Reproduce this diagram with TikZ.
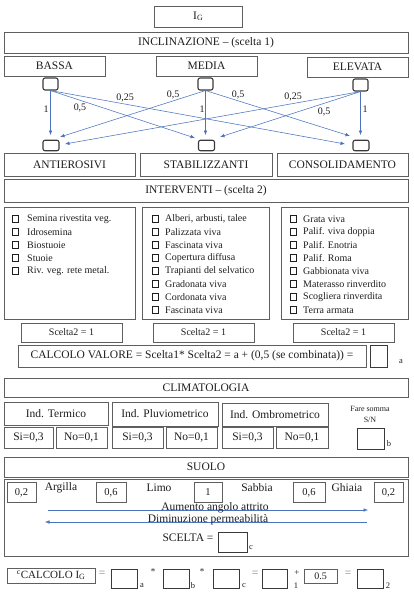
\documentclass[tikz,border=0pt]{standalone}
\usepackage{fontspec}
\setmainfont{Liberation Serif}
\usetikzlibrary{arrows.meta}
\definecolor{bordergray}{HTML}{5F5F5F}
\definecolor{sqgray}{HTML}{3A3A3A}
\definecolor{arrowblue}{HTML}{4A74C0}
\definecolor{txt}{HTML}{1E1E1E}
\newcommand\fs[1]{\fontsize{#1}{#1}\selectfont}
\begin{document}
\begin{tikzpicture}[x=1pt,y=-1pt,
 every node/.style={text=txt},
 bx/.style={draw=bordergray, line width=0.8pt, inner sep=0pt, font=\fs{11.5}},
 ans/.style={draw=sqgray, line width=0.9pt, inner sep=0pt},
 wh/.style 2 args={minimum width=#1pt, minimum height=#2pt},
 sq/.style={draw=sqgray, line width=1.1pt, rounded corners=2pt, inner sep=0pt},
 lbl/.style={inner sep=0pt, font=\fs{10}},
 arr/.style={draw=arrowblue, line width=0.55pt, -{Latex[length=4.5pt,width=3.6pt]}},
 item/.style={anchor=west, inner sep=0pt, font=\fs{10}},
 cb/.style={draw=txt, line width=0.8pt},
 sub/.style={inner sep=0pt, font=\fs{8.5}},
 plain/.style={inner sep=0pt, font=\fs{11.5}},
]
\useasboundingbox[fill=white] (0,0) rectangle (413,598);

% top
\node[bx, wh={88}{21}] (ig) at (198,16.5) {I\raisebox{-1pt}{\fs{8}G}};
\node[bx, wh={404}{21}] (incl) at (206,42.5) {INCLINAZIONE – (scelta 1)};
\node[bx, wh={101}{20}] (bassa) at (54.5,66) {BASSA};
\node[bx, wh={101}{20}] (media) at (206.5,66) {MEDIA};
\node[bx, wh={101}{20}] (elev) at (357.5,67) {ELEVATA};
\node[sq, wh={15}{12}] (s1) at (50.5,84) {};
\node[sq, wh={15}{12}] (s2) at (205.5,84) {};
\node[sq, wh={15}{12}] (s3) at (360.5,85) {};
\node[sq, wh={16}{10.5}] (t1) at (51,145.5) {};
\node[sq, wh={16}{10.5}] (t2) at (206.5,145.5) {};
\node[sq, wh={16}{10.5}] (t3) at (361,145.5) {};

\coordinate (e11) at (50.5,135);
\coordinate (e12) at (195,138);
\coordinate (e13) at (345,144);
\coordinate (e21) at (60,137);
\coordinate (e22) at (205.5,135);
\coordinate (e23) at (350,136);
\coordinate (e31) at (65,144);
\coordinate (e32) at (220,137);
\coordinate (e33) at (360.5,135);
\foreach \s in {1,2,3}{\foreach \e in {1,2,3}{\draw[arr] (s\s.south) -- (e\s\e);}}

\node[lbl] (w11) at (46,109) {1};
\node[lbl] (w12) at (80,108) {0,5};
\node[lbl] (w13) at (125,98) {0,25};
\node[lbl] (w21) at (173,95) {0,5};
\node[lbl] (w22) at (202,109) {1};
\node[lbl] (w23) at (238,95) {0,5};
\node[lbl] (w31) at (293,97) {0,25};
\node[lbl] (w32) at (324,112) {0,5};
\node[lbl] (w33) at (365,109) {1};

% interventi
\node[bx, wh={131}{23}] (anti) at (69.5,164.5) {ANTIEROSIVI};
\node[bx, wh={132}{23}] (stab) at (206,164.5) {STABILIZZANTI};
\node[bx, wh={131}{23}] (cons) at (342.5,164.5) {CONSOLIDAMENTO};
\node[bx, wh={404}{23}] (interv) at (206,190.5) {INTERVENTI – (scelta 2)};

\node[bx, wh={131}{112}] (lb1) at (69.5,263) {};
\node[bx, wh={127}{112}] (lb2) at (205.5,263) {};
\node[bx, wh={127}{112}] (lb3) at (344.5,263) {};

\foreach \t [count=\i] in {Semina rivestita veg., Idrosemina, Biostuoie, Stuoie, Riv. veg. rete metal.}{
  \pgfmathsetmacro\yy{219+13*(\i-1)}
  \draw[cb] (12,\yy-3.3) rectangle (18.6,\yy+3.3);
  \node[item] (la\i) at (27,\yy) {\t};
}
\foreach \t [count=\i] in {{Alberi, arbusti, talee}, Palizzata viva, Fascinata viva, Copertura diffusa, Trapianti del selvatico, Gradonata viva, Cordonata viva, Fascinata viva}{
  \pgfmathsetmacro\yy{219+13*(\i-1)}
  \draw[cb] (152,\yy-3.3) rectangle (158.6,\yy+3.3);
  \node[item] (lm\i) at (165,\yy) {\t};
}
\foreach \t [count=\i] in {Grata viva, Palif. viva doppia, Palif. Enotria, Palif. Roma, Gabbionata viva, Materasso rinverdito, Scogliera rinverdita, Terra armata}{
  \pgfmathsetmacro\yy{219+13*(\i-1)}
  \draw[cb] (290,\yy-3.3) rectangle (296.6,\yy+3.3);
  \node[item] (lr\i) at (303,\yy) {\t};
}

\node[bx, wh={101}{19}, font=\fs{10}] (sc1) at (71.5,332.5) {Scelta2 = 1};
\node[bx, wh={101}{19}, font=\fs{10}] (sc2) at (203.5,332.5) {Scelta2 = 1};
\node[bx, wh={101}{19}, font=\fs{10}] (sc3) at (343.5,332.5) {Scelta2 = 1};

\node[bx, wh={348}{22}] (calc) at (192,356) {CALCOLO VALORE = Scelta1* Scelta2 = a + (0,5 (se combinata)) =};
\node[ans, wh={17}{22}] (ba) at (378.5,356) {};
\node[sub] (sa) at (401,362) {a};

% climatologia
\node[bx, wh={404}{19}] (clim) at (206,387.5) {CLIMATOLOGIA};
\node[bx, wh={104}{23}] (term) at (56,413.5) {Ind. Termico};
\node[bx, wh={106}{24}] (pluv) at (165,414) {Ind. Pluviometrico};
\node[bx, wh={106}{23}] (ombr) at (275,415) {Ind. Ombrometrico};
\node[bx, wh={49}{21}] (si1) at (28.5,437.5) {Si=0,3};
\node[bx, wh={51}{21}] (no1) at (81.5,437.5) {No=0,1};
\node[bx, wh={51}{21}] (si2) at (137.5,437.5) {Si=0,3};
\node[bx, wh={51}{21}] (no2) at (191.5,437.5) {No=0,1};
\node[bx, wh={51}{21}] (si3) at (247.5,437.5) {Si=0,3};
\node[bx, wh={52}{21}] (no3) at (302,437.5) {No=0,1};
\node[inner sep=0pt, font=\fs{8}] (fare) at (370,409) {Fare somma};
\node[inner sep=0pt, font=\fs{8}] (sn) at (370,420) {S/N};
\node[ans, wh={27}{21}] (bb) at (370.5,438.5) {};
\node[sub] (sb) at (389,444) {b};

% suolo
\node[bx, wh={404}{20}] (suolo) at (206,467) {SUOLO};
\node[bx, wh={404}{77}] (soil) at (206,517.5) {};
\node[bx, wh={29}{20}, font=\fs{10.5}] (v1) at (21.5,492.5) {0,2};
\node[bx, wh={30}{20}, font=\fs{10.5}] (v2) at (111,492.5) {0,6};
\node[bx, wh={28}{20}, font=\fs{10.5}] (v3) at (208,492.5) {1};
\node[bx, wh={32}{20}, font=\fs{10.5}] (v4) at (309,492.5) {0,6};
\node[bx, wh={29}{20}, font=\fs{10.5}] (v5) at (388.5,492.5) {0,2};
\node[plain] (arg) at (61,488) {Argilla};
\node[plain] (lim) at (159,488) {Limo};
\node[plain] (sab) at (257,488) {Sabbia};
\node[plain] (ghi) at (347,488) {Ghiaia};
\coordinate (r1) at (48,510);
\coordinate (r2) at (368,510);
\coordinate (l1) at (367,522);
\coordinate (l2) at (45,522);
\draw[arr] (r1) -- (r2);
\draw[arr] (l1) -- (l2);
\node[plain] (aum) at (215,507.5) {Aumento angolo attrito};
\node[plain] (dim) at (208,520) {Diminuzione permeabilità};
\node[plain] (scelta) at (188,538) {SCELTA =};
\node[ans, wh={29}{20}] (bc) at (232.5,542) {};
\node[sub] (scc) at (251,548) {c};

% bottom row
\node[bx, wh={88}{15}, font=\fs{11}] (cig) at (51,575.5) {\textsuperscript{c}CALCOLO I\raisebox{-1pt}{\fs{8}G}};
\node[plain, text=gray] (eq1) at (102,574) {=};
\node[ans, wh={26}{19}] (x1) at (124,578.5) {};
\node[sub] (xa) at (142,586) {a};
\node[inner sep=0pt, font=\fs{9}] (m1) at (153,572) {*};
\node[ans, wh={26}{19}] (x2) at (176,578.5) {};
\node[sub] (xb) at (193,586) {b};
\node[inner sep=0pt, font=\fs{9}] (m2) at (202,572) {*};
\node[ans, wh={26}{19}] (x3) at (226,578.5) {};
\node[sub] (xc) at (244,586) {c};
\node[plain, text=gray] (eq2) at (255,574) {=};
\node[ans, wh={25}{19}] (x4) at (274.5,578.5) {};
\node[inner sep=0pt, font=\fs{9}] (pl) at (297,573) {+};
\node[sub] (x1s) at (296,586) {1};
\node[bx, wh={33}{14}, font=\fs{10}] (half) at (320.5,576) {0.5};
\node[plain, text=gray] (eq3) at (348,574) {=};
\node[ans, wh={26}{19}] (x5) at (370,578.5) {};
\node[sub] (x2s) at (388,586) {2};
\end{tikzpicture}
\end{document}
